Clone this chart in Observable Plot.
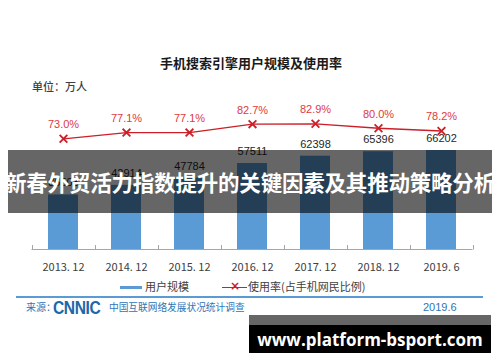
<!DOCTYPE html>
<html><head><meta charset="utf-8">
<script src="https://cdn.jsdelivr.net/npm/d3@7"></script>
<script src="https://cdn.jsdelivr.net/npm/@observablehq/plot@0.6"></script>
<style>
html,body{margin:0;padding:0;background:#fff;}
#wrap{position:relative;width:500px;height:362px;overflow:hidden;background:#fff;font-family:"Noto Sans CJK SC","Noto Sans",sans-serif;}
#wrap svg{position:absolute;left:0;top:0;}
.abs{position:absolute;white-space:nowrap;line-height:1;}
</style></head>
<body><div id="wrap"></div>
<script>
const categories = ["2013.12","2014.12","2015.12","2016.12","2017.12","2018.12","2019.6"];
const tickLabels = ["2013. 12","2014. 12","2015. 12","2016. 12","2017. 12","2018. 12","2019. 6"];
const users = [36503, 42914, 47784, 57511, 62398, 65396, 66202];
const rates = [73.0, 77.1, 77.1, 82.7, 82.9, 80.0, 78.2];
const title = "手机搜索引擎用户规模及使用率";
const unitLabel = "单位：万人";
const seriesNames = ["用户规模", "使用率(占手机网民比例)"];
const bannerText = "新春外贸活力指数提升的关键因素及其推动策略分析";
const footerUrl = "www.platform-bsport.com";

const RATE_K = 1014; // secondary axis: percent -> primary units
const data = categories.map((c, i) => ({cat: c, label: tickLabels[i], users: users[i], rate: rates[i], rateY: rates[i] * RATE_K}));

function axisMark(index, scales, values, dims) {
  const x = scales.x, y = scales.y;
  const bw = x.bandwidth(), step = x.step();
  const gap = (step - bw) / 2;
  const y0 = y(0);
  const bounds = categories.map(c => x(c) - gap);
  bounds.push(x(categories[categories.length - 1]) + bw + gap);
  const g = d3.create("svg:g").attr("stroke", "#a6a6a6").attr("stroke-width", 1);
  g.append("line").attr("x1", bounds[0]).attr("x2", bounds[bounds.length - 1]).attr("y1", y0 + 0.5).attr("y2", y0 + 0.5);
  for (const b of bounds) {
    g.append("line").attr("x1", Math.round(b) + 0.5).attr("x2", Math.round(b) + 0.5).attr("y1", y0 - 4).attr("y2", y0 + 0.5);
  }
  return g.node();
}

const chart = Plot.plot({
  width: 500,
  height: 362,
  marginTop: 99.5,
  marginBottom: 113,
  marginLeft: 29,
  marginRight: 24,
  style: {background: "transparent", fontFamily: "'Liberation Sans', Arial, sans-serif"},
  x: {type: "band", domain: categories, paddingInner: 0.52, paddingOuter: 0.26, axis: null},
  y: {domain: [0, 100000], axis: null},
  marks: [
    Plot.barY(data, {x: "cat", y: "users", fill: "#5b9bd5"}),
    axisMark,
    Plot.text(data, {x: "cat", text: "label", frameAnchor: "bottom", dy: 18, lineAnchor: "middle", fontSize: 11, fill: "#404040", fontFamily: "'Noto Sans CJK SC', sans-serif"}),
    Plot.text(data, {x: "cat", y: "users", text: d => String(d.users), dy: -12, lineAnchor: "middle", fontSize: 11, fill: "#262626"}),
    Plot.line(data, {x: "cat", y: "rateY", stroke: "#cc1f27", strokeWidth: 1.4}),
    Plot.dot(data, {x: "cat", y: "rateY", symbol: "times", r: 3.6, stroke: "#cc1f27", strokeWidth: 1.8}),
    Plot.text(data, {x: "cat", y: "rateY", text: d => d.rate.toFixed(1) + "%", dy: -14, lineAnchor: "middle", fontSize: 11, fill: "#e0393e"})
  ]
});

const wrap = document.getElementById("wrap");
wrap.appendChild(chart);

function addDiv(html, css) {
  const d = document.createElement("div");
  d.className = "abs";
  d.innerHTML = html;
  Object.assign(d.style, css);
  wrap.appendChild(d);
  return d;
}

// title
addDiv(title, {left: "0px", width: "502px", textAlign: "center", top: "56px", fontSize: "13px", fontWeight: "700", color: "#1a1a1a"});
// unit
addDiv(unitLabel, {left: "32px", top: "81px", fontSize: "11px", fontWeight: "500", color: "#404040"});
// legend
addDiv("", {left: "120px", top: "285.5px", width: "22px", height: "3.5px", background: "#5b9bd5"});
addDiv(seriesNames[0], {left: "145px", top: "281px", fontSize: "11px", color: "#404040"});
addDiv("", {left: "222px", top: "286.5px", width: "25px", height: "1.3px", background: "#cc1f27"});
addDiv("×", {left: "230px", top: "280px", fontSize: "12px", fontWeight: "700", color: "#cc1f27", fontFamily: "'DejaVu Sans', sans-serif"});
addDiv(seriesNames[1], {left: "248px", top: "281px", fontSize: "11px", color: "#404040"});
// separator
addDiv("", {left: "16px", top: "296px", width: "467px", height: "1.5px", background: "#5b9bd5"});
// source
addDiv("来源：", {left: "26px", top: "302px", fontSize: "10px", color: "#2e75b6"});
addDiv("CNNIC", {left: "53px", top: "298px", fontSize: "19px", fontWeight: "700", color: "#1f67a8", fontFamily: "'Liberation Sans', Arial, sans-serif", transform: "scaleX(0.82)", transformOrigin: "left center", letterSpacing: "-0.5px"});
addDiv("中国互联网络发展状况统计调查", {left: "109px", top: "303px", fontSize: "9.7px", color: "#2e75b6"});
addDiv("2019.6", {left: "423px", top: "302px", fontSize: "11px", color: "#2e75b6", fontFamily: "'Liberation Sans', Arial, sans-serif"});
// banner overlay
addDiv("", {left: "8px", top: "150px", width: "484px", height: "63px", background: "rgba(0,0,0,0.6)"});
addDiv(bannerText, {left: "0px", top: "150px", width: "500px", height: "63px", color: "#fff", fontSize: "21.5px", fontWeight: "700", display: "flex", alignItems: "center", justifyContent: "center", letterSpacing: "-0.2px"});
// footer watermark
addDiv("", {left: "249px", top: "315px", width: "242px", height: "10px", background: "#666"});
addDiv(footerUrl, {left: "249px", top: "325px", width: "242px", height: "28px", background: "#000", color: "#fff", fontSize: "17px", fontWeight: "700", fontFamily: "'Open Sans', 'DejaVu Sans', sans-serif", display: "flex", alignItems: "center", justifyContent: "center"});
</script></body></html>
